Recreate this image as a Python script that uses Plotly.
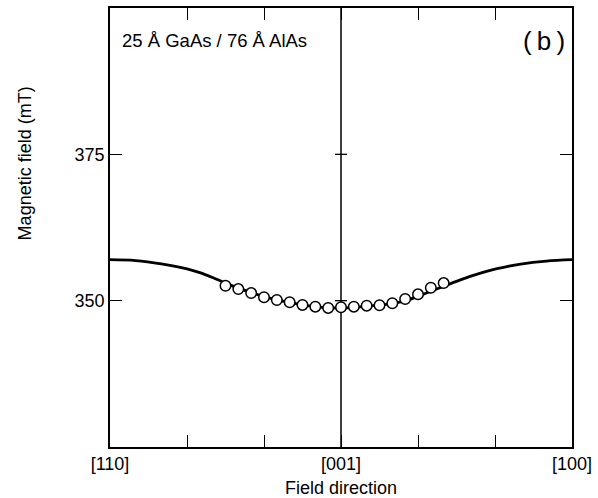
import plotly.graph_objects as go

# Field angle in the (1-10) plane, degrees from [001]; -90 = [110], +90 = [100]
calc_angle = [-90, -80, -70, -60, -55, -50, -45, -40, -35, -30, -25, -20, -15, -10, -5,
              0, 5, 10, 15, 20, 25, 30, 35, 40, 45, 50, 55, 60, 65, 70, 80, 90]
calc_field = [357.0, 356.85, 356.3, 355.45, 354.8, 353.95, 353.0, 352.15, 351.4, 350.7,
              350.15, 349.7, 349.3, 349.0, 348.8, 348.75, 348.85, 349.05, 349.25, 349.5,
              349.95, 350.75, 351.6, 352.45, 353.3, 354.1, 354.8, 355.4, 355.85, 356.25,
              356.75, 357.0]

# Measured resonance positions (mT)
meas_angle = [-45, -40, -35, -30, -25, -20, -15, -10, -5, 0, 5, 10, 15, 20, 25, 30, 35, 40]
meas_field = [352.54, 351.98, 351.30, 350.58, 350.12, 349.73, 349.27, 348.98, 348.76,
              348.88, 348.98, 349.15, 349.22, 349.56, 350.29, 351.08, 352.20, 353.0]

x_tickvals = [-90, -60, -30, 0, 30, 60, 90]
x_ticktext = ["[110]", "", "", "[001]", "", "", "[100]"]
y_tickvals = [350, 375]
y_ticktext = ["350", "375"]

FONT = "Liberation Sans, Arial, Helvetica, sans-serif"

fig = go.Figure()

fig.add_trace(go.Scatter(
    x=calc_angle, y=calc_field, mode="lines",
    line=dict(color="black", width=2.8, shape="spline", smoothing=1.0),
    hoverinfo="skip", showlegend=False,
))

fig.add_trace(go.Scatter(
    x=meas_angle, y=meas_field, mode="markers",
    marker=dict(symbol="circle", size=10.5, color="white",
                line=dict(color="black", width=1.5)),
    showlegend=False,
))

# Vertical reference line at [001] with its own cross ticks
fig.add_shape(type="line", xref="x", yref="paper", x0=0, x1=0, y0=0, y1=1,
              line=dict(color="black", width=1.5), layer="below")
for yv in y_tickvals:
    fig.add_shape(type="line", xref="x", yref="y", xsizemode="pixel", xanchor=0,
                  x0=-6, x1=6, y0=yv, y1=yv, line=dict(color="black", width=1.3))

fig.add_annotation(text="25 Å GaAs / 76 Å AlAs", xref="paper", yref="paper",
                   x=0.022, y=0.927, xanchor="left", yanchor="middle", showarrow=False,
                   font=dict(family=FONT, size=18.5, color="black"))
fig.add_annotation(text="(\u2009b\u2009)", xref="paper", yref="paper",
                   x=0.99, y=0.925, xanchor="right", yanchor="middle", showarrow=False,
                   font=dict(family=FONT, size=26, color="black"))

# Axis titles
fig.add_annotation(text="Magnetic field (mT)", xref="paper", yref="paper",
                   x=-0.185, y=0.645, xanchor="center", yanchor="middle", textangle=-90,
                   showarrow=False, font=dict(family=FONT, size=18, color="black"))
fig.add_annotation(text="Field direction", xref="paper", yref="paper",
                   x=0.5, y=-0.093, xanchor="center", yanchor="middle",
                   showarrow=False, font=dict(family=FONT, size=18, color="black"))

fig.update_xaxes(
    range=[-90, 90], tickvals=x_tickvals, ticktext=x_ticktext,
    ticks="inside", ticklen=12, tickwidth=1.3, tickcolor="black",
    showline=True, linecolor="black", linewidth=1.6, mirror="ticks",
    showgrid=False, zeroline=False, automargin=False,
    tickfont=dict(family=FONT, size=18, color="black"),
)
fig.update_yaxes(
    range=[325, 400], tickvals=y_tickvals, ticktext=y_ticktext,
    ticks="inside", ticklen=12, tickwidth=1.3, tickcolor="black",
    showline=True, linecolor="black", linewidth=1.6, mirror="ticks",
    showgrid=False, zeroline=False, automargin=False,
    tickfont=dict(family=FONT, size=18, color="black"),
)

fig.update_layout(
    width=598, height=498,
    margin=dict(l=110, r=26, t=8, b=51),
    plot_bgcolor="white", paper_bgcolor="white",
)

fig.write_html("out.html")
